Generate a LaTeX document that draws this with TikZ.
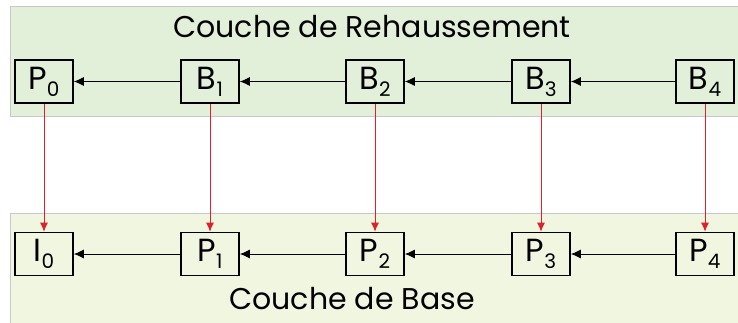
\documentclass[tikz,border=0pt]{standalone}
\usepackage{fontspec}
\setmainfont{Poppins}
\usepackage{xcolor}
\usetikzlibrary{arrows.meta}

\definecolor{layertop}{HTML}{E2EFD9}
\definecolor{layerbot}{HTML}{F1F6E1}
\definecolor{layeredge}{HTML}{C8C8C8}
\definecolor{predred}{HTML}{E0202A}

\newcommand{\frm}[2]{#1\raisebox{-7pt}{\fontsize{20}{20}\selectfont #2}}

\tikzset{
  frame/.style={draw, line width=1.6pt, rectangle, minimum width=58pt, minimum height=43pt,
    inner sep=0pt, font=\fontsize{32}{32}\selectfont},
  ref/.style={-{Latex[length=10pt,width=9pt]}, line width=1pt},
  inter/.style={-{Latex[length=9pt,width=8pt]}, line width=1pt, predred},
  title/.style={font=\fontsize{30}{30}\selectfont}
}

\begin{document}
\begin{tikzpicture}[x=1pt, y=-1pt]
\useasboundingbox (0,0) rectangle (738,322);

% Layers
\draw[layeredge, fill=layertop] (10,6) rectangle (750,116);
\draw[layeredge, fill=layerbot] (10,213) rectangle (750,335);
\node[title] (toptitle) at (372,27) {Couche de Rehaussement};
\node[title] (bottitle) at (352,299) {Couche de Base};

% Enhancement layer frames
\node[frame] (P0) at (44,81.5) {\frm{P}{0}};
\node[frame] (B1) at (210,81.5) {\frm{B}{1}};
\node[frame] (B2) at (375,81.5) {\frm{B}{2}};
\node[frame] (B3) at (541,81.5) {\frm{B}{3}};
\node[frame] (B4) at (705,81.5) {\frm{B}{4}};

% Base layer frames
\node[frame] (I0) at (44,254) {\frm{I}{0}};
\node[frame] (P1) at (210,254) {\frm{P}{1}};
\node[frame] (P2) at (375,254) {\frm{P}{2}};
\node[frame] (P3) at (541,254) {\frm{P}{3}};
\node[frame] (P4) at (705,254) {\frm{P}{4}};

% Temporal references
\draw[ref] (B1) -- (P0);
\draw[ref] (B2) -- (B1);
\draw[ref] (B3) -- (B2);
\draw[ref] (B4) -- (B3);
\draw[ref] (P1) -- (I0);
\draw[ref] (P2) -- (P1);
\draw[ref] (P3) -- (P2);
\draw[ref] (P4) -- (P3);

% Inter-layer references
\draw[inter] (P0) -- (I0);
\draw[inter] (B1) -- (P1);
\draw[inter] (B2) -- (P2);
\draw[inter] (B3) -- (P3);
\draw[inter] (B4) -- (P4);

\end{tikzpicture}
\end{document}
